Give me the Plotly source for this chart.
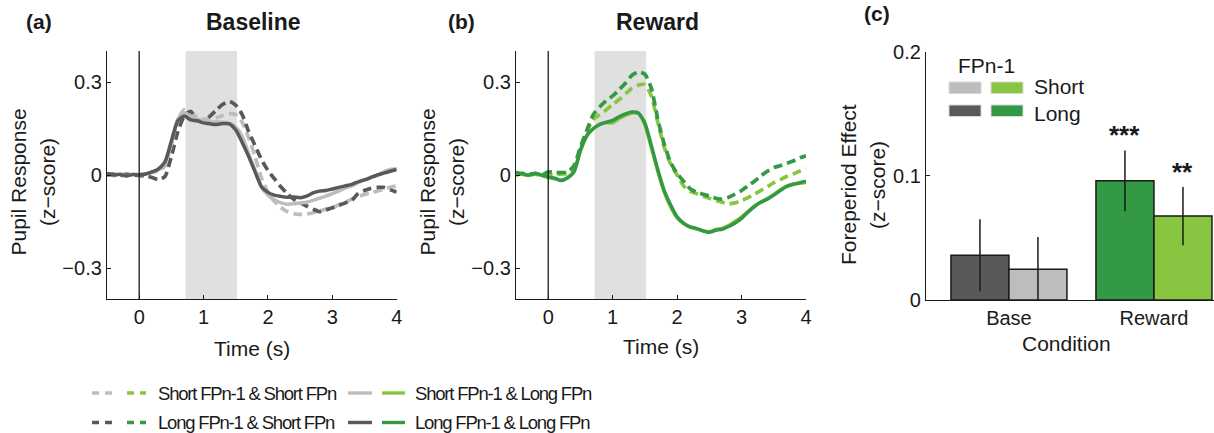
import plotly.graph_objects as go

W, H = 1214, 433
FONT = "Liberation Sans, Arial, Helvetica, sans-serif"
INK = "#1a1a1a"

# ---- time-course data (seconds, z-scored pupil response) ----
time_s = [-0.5, -0.4, -0.3, -0.2, -0.1, 0.0, 0.1, 0.2, 0.3, 0.4,
          0.5, 0.6, 0.7, 0.8, 0.9, 1.0, 1.1, 1.2, 1.3, 1.4,
          1.5, 1.6, 1.7, 1.8, 1.9, 2.0, 2.1, 2.2, 2.3, 2.4,
          2.5, 2.6, 2.7, 2.8, 2.9, 3.0, 3.1, 3.2, 3.3, 3.4,
          3.5, 3.6, 3.7, 3.8, 3.9, 4.0]

# Baseline condition
base_short_short = [0.002, -0.002, 0.001, 0.003, 0.0, 0.002, 0.004, 0.008, 0.012, 0.03,
                    0.1, 0.18, 0.21, 0.2, 0.186, 0.18, 0.18, 0.185, 0.192, 0.198,
                    0.195, 0.17, 0.12, 0.06, -0.01, -0.055, -0.085, -0.105, -0.118, -0.125,
                    -0.127, -0.126, -0.122, -0.116, -0.11, -0.105, -0.097, -0.088, -0.078, -0.07,
                    -0.063, -0.057, -0.052, -0.046, -0.04, -0.035]
base_long_short = [0.0, 0.003, -0.002, 0.002, 0.0, -0.002, -0.003, -0.008, -0.015, -0.005,
                   0.06, 0.14, 0.19, 0.205, 0.178, 0.175, 0.19, 0.21, 0.228, 0.238,
                   0.225, 0.195, 0.14, 0.095, 0.05, 0.015, -0.012, -0.038, -0.06, -0.078,
                   -0.09, -0.1, -0.11, -0.118, -0.113, -0.106, -0.098, -0.09, -0.082, -0.06,
                   -0.05, -0.043, -0.04, -0.04, -0.048, -0.055]
base_short_long = [0.004, 0.0, 0.003, -0.002, 0.002, 0.001, 0.004, 0.01, 0.016, 0.035,
                   0.1, 0.18, 0.2, 0.19, 0.18, 0.175, 0.17, 0.172, 0.17, 0.168,
                   0.155, 0.125, 0.07, 0.015, -0.04, -0.065, -0.08, -0.09, -0.094, -0.093,
                   -0.09, -0.088, -0.082, -0.075, -0.068, -0.06, -0.052, -0.042, -0.035, -0.025,
                   -0.015, -0.008, 0.0, 0.01, 0.018, 0.02]
base_long_long = [0.005, 0.0, 0.002, -0.003, 0.002, 0.0, 0.003, 0.01, 0.02, 0.042,
                  0.11, 0.175, 0.19, 0.178, 0.175, 0.168, 0.165, 0.163, 0.166, 0.165,
                  0.145, 0.105, 0.06, 0.01, -0.038, -0.056, -0.065, -0.069, -0.072, -0.071,
                  -0.073, -0.068, -0.058, -0.052, -0.05, -0.045, -0.04, -0.035, -0.03, -0.022,
                  -0.016, -0.008, 0.0, 0.006, 0.012, 0.018]

# Reward condition
rew_short_short = [0.0, 0.004, 0.0, 0.003, -0.002, 0.0, 0.002, 0.003, 0.005, 0.025,
                   0.085, 0.14, 0.18, 0.195, 0.21, 0.228, 0.243, 0.262, 0.28, 0.29,
                   0.292, 0.255, 0.17, 0.09, 0.035, 0.0, -0.035, -0.052, -0.06, -0.068,
                   -0.075, -0.082, -0.088, -0.093, -0.09, -0.083, -0.073, -0.062, -0.05, -0.038,
                   -0.025, -0.015, -0.005, 0.003, 0.012, 0.02]
rew_long_short = [0.0, 0.005, 0.002, 0.005, 0.0, 0.01, 0.008, 0.008, 0.01, 0.03,
                  0.09, 0.145, 0.195, 0.22, 0.24, 0.255, 0.275, 0.297, 0.322, 0.332,
                  0.325, 0.28, 0.18, 0.1, 0.04, 0.005, -0.02, -0.044, -0.055, -0.062,
                  -0.068, -0.075, -0.078, -0.072, -0.062, -0.05, -0.035, -0.02, -0.003, 0.012,
                  0.024, 0.03, 0.038, 0.045, 0.055, 0.062]
rew_short_long = [0.006, 0.002, -0.002, 0.004, -0.002, -0.008, -0.012, -0.016, -0.008, 0.012,
                  0.078, 0.126, 0.149, 0.164, 0.169, 0.168, 0.182, 0.192, 0.2, 0.198,
                  0.162, 0.088, 0.012, -0.055, -0.103, -0.138, -0.157, -0.168, -0.174, -0.18,
                  -0.183, -0.176, -0.172, -0.163, -0.15, -0.135, -0.117, -0.1, -0.087, -0.076,
                  -0.063, -0.048, -0.036, -0.03, -0.027, -0.024]
rew_long_long = [0.008, 0.004, 0.0, 0.005, 0.0, -0.006, -0.01, -0.018, -0.01, 0.01,
                 0.08, 0.128, 0.15, 0.163, 0.17, 0.176, 0.188, 0.197, 0.203, 0.2,
                 0.168, 0.095, 0.018, -0.05, -0.097, -0.135, -0.155, -0.167, -0.172, -0.18,
                 -0.185, -0.178, -0.175, -0.166, -0.155, -0.14, -0.12, -0.102, -0.088, -0.078,
                 -0.065, -0.05, -0.037, -0.03, -0.025, -0.02]

# ---- foreperiod effect bars ----
conditions = ["Base", "Reward"]
cond_pos = [1, 2]
effect_long = [0.036, 0.096]
err_long = [0.029, 0.0245]
effect_short = [0.0247, 0.0676]
err_short = [0.026, 0.0235]

# colours
GRAY_LIGHT = "#bdbdbd"
GRAY_DARK = "#595959"
GREEN_LIGHT = "#88c540"
GREEN_DARK = "#339944"

DASH = "9px,5px"


def px_x(p):
    return p / W


def px_y(p):
    return 1 - p / H


fig = go.Figure()

panels = [
    ("x", "y", [base_short_short, base_long_short, base_short_long, base_long_long],
     [GRAY_LIGHT, GRAY_DARK, GRAY_LIGHT, GRAY_DARK]),
    ("x2", "y2", [rew_short_short, rew_long_short, rew_short_long, rew_long_long],
     [GREEN_LIGHT, GREEN_DARK, GREEN_LIGHT, GREEN_DARK]),
]
for xa, ya, series, cols in panels:
    for i, (vals, col) in enumerate(zip(series, cols)):
        dashed = i < 2
        fig.add_trace(go.Scatter(
            x=time_s, y=vals, mode="lines", xaxis=xa, yaxis=ya,
            line=dict(color=col, width=3.7 if dashed else 3.5,
                      dash=DASH if dashed else "solid", shape="spline", smoothing=0.6),
            showlegend=False, hoverinfo="skip"))

# bars: long FPn-1 first, then short FPn-1
fig.add_trace(go.Bar(
    x=cond_pos, y=effect_long, xaxis="x3", yaxis="y3", width=0.4, offset=-0.4,
    marker=dict(color=[GRAY_DARK, GREEN_DARK], line=dict(color=INK, width=1.5)),
    error_y=dict(type="data", array=err_long, color=INK, thickness=1.5, width=0),
    showlegend=False, hoverinfo="skip"))
fig.add_trace(go.Bar(
    x=cond_pos, y=effect_short, xaxis="x3", yaxis="y3", width=0.4, offset=0.0,
    marker=dict(color=[GRAY_LIGHT, GREEN_LIGHT], line=dict(color=INK, width=1.5)),
    error_y=dict(type="data", array=err_short, color=INK, thickness=1.5, width=0),
    showlegend=False, hoverinfo="skip"))

tickfont = dict(family=FONT, size=20, color=INK)
common = dict(showline=True, linecolor=INK, linewidth=1.3, tickcolor=INK, showgrid=False,
              zeroline=False, tickfont=tickfont, fixedrange=True, automargin=False)
ts_axis = dict(common, range=[-0.5, 4], tickvals=[0, 1, 2, 3, 4], ticks="inside", ticklen=4)
ts_yaxis = dict(common, range=[-0.4, 0.4], tickvals=[-0.3, 0, 0.3], ticks="inside", ticklen=4)

fig.update_layout(
    template="none",
    width=W, height=H, margin=dict(l=0, r=0, t=0, b=0, pad=0), autosize=False,
    paper_bgcolor="white", plot_bgcolor="white",
    font=dict(family=FONT, color=INK),
    barmode="overlay", showlegend=False,
    xaxis=dict(ts_axis, domain=[px_x(107), px_x(396.7)], anchor="y"),
    yaxis=dict(ts_yaxis, domain=[px_y(299), px_y(51)], anchor="x"),
    xaxis2=dict(ts_axis, domain=[px_x(516), px_x(806)], anchor="y2"),
    yaxis2=dict(ts_yaxis, domain=[px_y(299), px_y(51)], anchor="x2"),
    xaxis3=dict(common, range=[0.428, 2.414], tickvals=cond_pos, ticktext=conditions,
                domain=[px_x(926), 1.0], anchor="y3", ticks=""),
    yaxis3=dict(common, range=[0, 0.2], tickvals=[0, 0.1, 0.2], domain=[px_y(300), px_y(51.7)],
                anchor="x3", ticks="inside", ticklen=4),
)

shapes = []
for xa, ya in (("x", "y"), ("x2", "y2")):
    # stimulus window
    shapes.append(dict(type="rect", xref=xa, yref=ya + " domain", x0=0.72, x1=1.52, y0=0, y1=1,
                       fillcolor="#e0e0e0", line=dict(width=0), layer="below"))
    # onset marker
    shapes.append(dict(type="line", xref=xa, yref=ya + " domain", x0=0, x1=0, y0=0, y1=1,
                       line=dict(color=INK, width=1.3)))

# legend swatches for the bar panel
for (x0, x1), (y0, y1), col in [((949, 981), (82, 93.5), GRAY_LIGHT),
                                ((991, 1023), (82, 93.5), GREEN_LIGHT),
                                ((949, 981), (105, 116.5), GRAY_DARK),
                                ((991, 1023), (105, 116.5), GREEN_DARK)]:
    shapes.append(dict(type="rect", xref="paper", yref="paper",
                       x0=px_x(x0), x1=px_x(x1), y0=px_y(y1), y1=px_y(y0),
                       fillcolor=col, line=dict(color="#d8d8d8", width=1)))

# bottom line-style legend
leg_rows = [393, 422.5]
legend_samples = [
    (92, 112, leg_rows[0], GRAY_LIGHT, "7px,6px"),
    (127, 146, leg_rows[0], GREEN_LIGHT, "7px,6px"),
    (92, 112, leg_rows[1], GRAY_DARK, "7px,6px"),
    (127, 146, leg_rows[1], GREEN_DARK, "7px,6px"),
    (348, 372, leg_rows[0], GRAY_LIGHT, "solid"),
    (382, 405, leg_rows[0], GREEN_LIGHT, "solid"),
    (348, 372, leg_rows[1], GRAY_DARK, "solid"),
    (382, 405, leg_rows[1], GREEN_DARK, "solid"),
]
for x0, x1, yy, col, dash in legend_samples:
    shapes.append(dict(type="line", xref="paper", yref="paper",
                       x0=px_x(x0), x1=px_x(x1), y0=px_y(yy), y1=px_y(yy),
                       line=dict(color=col, width=3.4, dash=dash)))

fig.update_layout(shapes=shapes)

ann = []


def text(x, y, s, size=21, bold=False, xanchor="center", yanchor="middle", angle=0):
    ann.append(dict(x=px_x(x), y=px_y(y), xref="paper", yref="paper",
                    text=f"<b>{s}</b>" if bold else s,
                    showarrow=False, xanchor=xanchor, yanchor=yanchor, textangle=angle,
                    font=dict(family=FONT, size=size, color=INK)))


# panel labels and titles
text(39, 22, "(a)", size=21, bold=True)
text(253, 22, "Baseline", size=23, bold=True)
text(461, 22, "(b)", size=21, bold=True)
text(657, 22, "Reward", size=23, bold=True)
text(877, 14, "(c)", size=21, bold=True)

# axis titles
for x_left, x_center in ((17.5, 47), (426.5, 456)):
    text(x_left, 182, "Pupil Response", angle=-90)
    text(x_center, 182, "(z−score)", angle=-90)
text(252, 348, "Time (s)")
text(661, 346, "Time (s)")
text(848, 185, "Foreperiod Effect", angle=-90)
text(877, 185, "(z−score)", angle=-90)
text(1066, 343, "Condition")

# bar legend
text(986, 65, "FPn-1")
text(1032, 87, "Short", xanchor="left")
text(1032, 113, "Long", xanchor="left")

# significance stars
ann.append(dict(x=1.8, y=0.133, xref="x3", yref="y3", text="<b>***</b>", showarrow=False,
                font=dict(family=FONT, size=26, color=INK), yanchor="middle"))
ann.append(dict(x=2.2, y=0.1035, xref="x3", yref="y3", text="<b>**</b>", showarrow=False,
                font=dict(family=FONT, size=26, color=INK), yanchor="middle"))

# line-style legend text, set tight
for x, y, s in [(156, leg_rows[0], "Short FPn-1 &amp; Short FPn"),
                (156, leg_rows[1], "Long FPn-1 &amp; Short FPn"),
                (413, leg_rows[0], "Short FPn-1 &amp; Long FPn"),
                (413, leg_rows[1], "Long FPn-1 &amp; Long FPn")]:
    text(x, y, f'<span style="letter-spacing:-1.2px">{s}</span>', size=18.5, xanchor="left")

fig.update_layout(annotations=ann)

fig.write_html("out.html")
